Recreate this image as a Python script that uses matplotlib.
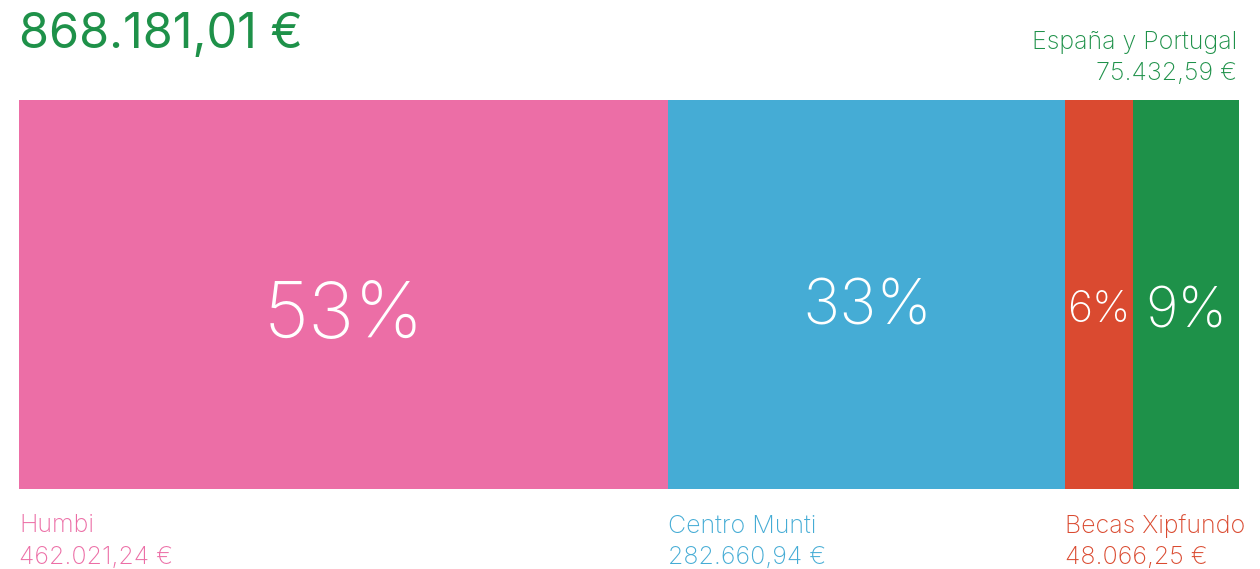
import matplotlib
matplotlib.use("Agg")
import matplotlib.pyplot as plt

# Stacked share bar: totals per programme
categories = ["Humbi", "Centro Munti", "Becas Xipfundo", "España y Portugal"]
amounts = [462021.24, 282660.94, 48066.25, 75432.59]
total = 868181.01
colors = ["#ec6ea6", "#45acd5", "#da4a30", "#1e9149"]

plt.rcParams["font.family"] = ["Inter", "DejaVu Sans"]


def eur(v):
    s = f"{v:,.2f}".replace(",", "X").replace(".", ",").replace("X", ".")
    return s + " €"


W, H = 1260, 569
fig = plt.figure(figsize=(W / 100, H / 100), dpi=100)
ax = fig.add_axes([19 / W, (H - 489) / H, 1220 / W, 389 / H])

left = 0
starts = []
for name, val, c in zip(categories, amounts, colors):
    ax.barh(0, val, left=left, height=1, color=c, linewidth=0)
    starts.append(left)
    left += val

ax.set_xlim(0, sum(amounts))
ax.set_ylim(-0.5, 0.5)
ax.axis("off")

# percentage labels inside the segments
pct_sizes = [56, 45, 31, 40]
pct_dy = [-0.06, -0.035, -0.04, -0.045]
for st, val, fs, dy in zip(starts, amounts, pct_sizes, pct_dy):
    pct = round(val / total * 100)
    ax.text(st + val / 2, dy, f"{pct}%", color="white", fontsize=fs,
            fontweight="light", ha="center", va="center")

# labels under the bar (first three), last one above on the right
for i in range(3):
    x_fig = 19 / W + starts[i] / sum(amounts) * 1220 / W
    fig.text(x_fig, 1 - 526 / H, categories[i], color=colors[i], fontsize=18,
             fontweight="light", ha="left", va="center")
    fig.text(x_fig, 1 - 557 / H, eur(amounts[i]), color=colors[i], fontsize=18,
             fontweight="light", ha="left", va="center")

fig.text(1237 / W, 1 - 42 / H, categories[3], color=colors[3], fontsize=18,
         fontweight="light", ha="right", va="center")
fig.text(1237 / W, 1 - 73 / H, eur(amounts[3]), color=colors[3], fontsize=18,
         fontweight="light", ha="right", va="center")

fig.text(19 / W, 1 - 35 / H, eur(total), color="#1e9149", fontsize=35,
         ha="left", va="center")

fig.savefig("out.png", dpi=100)
